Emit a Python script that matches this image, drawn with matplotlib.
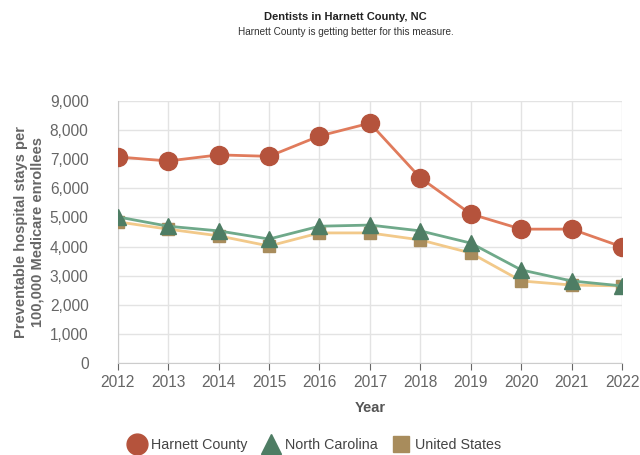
import numpy as np
import matplotlib.pyplot as plt
from matplotlib.lines import Line2D

years = [2012, 2013, 2014, 2015, 2016, 2017, 2018, 2019, 2020, 2021, 2022]
harnett = [7080, 6940, 7150, 7100, 7800, 8240, 6360, 5120, 4600, 4600, 3990]
nc = [5020, 4700, 4540, 4260, 4700, 4740, 4540, 4120, 3200, 2820, 2650]
us = [4850, 4600, 4370, 4020, 4470, 4470, 4230, 3780, 2820, 2680, 2650]

plt.rcParams['font.family'] = ['Liberation Sans', 'DejaVu Sans']

fig = plt.figure(figsize=(6.4, 4.55), dpi=100)
ax = fig.add_axes([0.184, 0.202, 0.788, 0.576])

ax.plot(years, us, color='#f2c98a', lw=2, marker='s', ms=9,
        mfc='#a88c5c', mec='#a88c5c', zorder=3)
ax.plot(years, nc, color='#6fa98a', lw=2, marker='^', ms=11,
        mfc='#4e7d64', mec='#4e7d64', zorder=4)
ax.plot(years, harnett, color='#e07b5c', lw=2, marker='o', ms=13,
        mfc='#b5533c', mec='#b5533c', zorder=5)

ax.set_xlim(2012, 2022)
ax.set_ylim(0, 9000)
ax.set_xticks(years)
ax.set_yticks(np.arange(0, 9001, 1000))
ax.set_yticklabels([f'{v:,}' for v in range(0, 9001, 1000)])
ax.grid(True, color='#e3e3e3', lw=1)
ax.set_axisbelow(True)
for s in ['top', 'right']:
    ax.spines[s].set_visible(False)
ax.spines['left'].set_color('#cccccc')
ax.spines['bottom'].set_color('#cccccc')
ax.tick_params(colors='#666666', labelsize=11.2, length=5)
ax.tick_params(axis='y', length=0, pad=21)

ax.set_xlabel('Year', fontsize=10.5, fontweight='bold', color='#555555', labelpad=8)
ax.set_ylabel('Preventable hospital stays per\n100,000 Medicare enrollees',
              fontsize=10.5, fontweight='bold', color='#666666')
ax.yaxis.set_label_coords(-0.145, 0.5)

fig.text(0.54, 0.955, 'Dentists in Harnett County, NC', ha='center',
         fontsize=8, fontweight='bold', color='#222222')
fig.text(0.54, 0.922, 'Harnett County is getting better for this measure.',
         ha='center', fontsize=7.2, color='#333333')

handles = [
    Line2D([], [], ls='none', marker='o', ms=15, mfc='#b5533c', mec='#b5533c'),
    Line2D([], [], ls='none', marker='^', ms=15, mfc='#4e7d64', mec='#4e7d64'),
    Line2D([], [], ls='none', marker='s', ms=12, mfc='#a88c5c', mec='#a88c5c'),
]
labels = ['Harnett County', 'North Carolina', 'United States']
fig.legend(handles, labels, loc='center', bbox_to_anchor=(0.493, 0.022),
           ncol=3, frameon=False, fontsize=10.3, handlelength=1.0,
           handletextpad=0.5, columnspacing=1.1, labelcolor='#444444')

fig.savefig('out.png', dpi=100)
